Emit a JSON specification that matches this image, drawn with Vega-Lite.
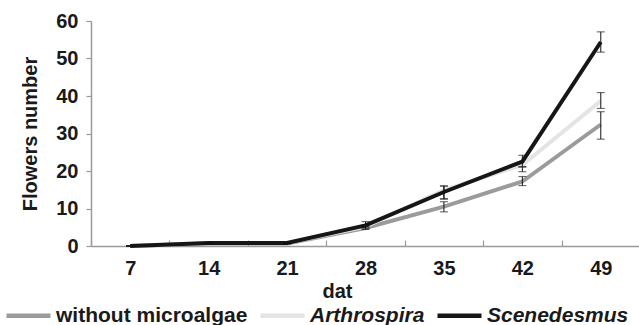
{
  "$schema": "https://vega.github.io/schema/vega-lite/v6.json",
  "width": 549,
  "height": 225,
  "autosize": "none",
  "padding": {"left": 91, "top": 21, "right": 0, "bottom": 79},
  "background": "white",
  "config": {
    "view": {"stroke": null},
    "font": "Liberation Sans",
    "axis": {"grid": false, "labelFont": "Liberation Sans", "titleFont": "Liberation Sans", "labelFontWeight": "bold", "titleFontWeight": "bold", "labelFontSize": 20, "titleFontSize": 20, "labelColor": "#1a1a1a", "titleColor": "#1a1a1a", "domainColor": "#9a9a9a", "tickColor": "#9a9a9a", "domainWidth": 1.5, "tickWidth": 1.2, "labelOverlap": false, "labelFlush": false}
  },
  "data": {
    "values": [
      {"dat": "7", "series": "without microalgae", "value": 0, "lo": 0, "hi": 0},
      {"dat": "14", "series": "without microalgae", "value": 0.7, "lo": 0.6, "hi": 0.8},
      {"dat": "21", "series": "without microalgae", "value": 0.7, "lo": 0.6, "hi": 0.8},
      {"dat": "28", "series": "without microalgae", "value": 4.8, "lo": 4.4, "hi": 5.2},
      {"dat": "35", "series": "without microalgae", "value": 10.5, "lo": 9.1, "hi": 11.8},
      {"dat": "42", "series": "without microalgae", "value": 17.2, "lo": 16.1, "hi": 18.5},
      {"dat": "49", "series": "without microalgae", "value": 32.4, "lo": 28.5, "hi": 35.8},
      {"dat": "7", "series": "Arthrospira", "value": 0, "lo": 0, "hi": 0},
      {"dat": "14", "series": "Arthrospira", "value": 0.8, "lo": 0.7, "hi": 0.9},
      {"dat": "21", "series": "Arthrospira", "value": 0.8, "lo": 0.7, "hi": 0.9},
      {"dat": "28", "series": "Arthrospira", "value": 5.2, "lo": 4.8, "hi": 5.6},
      {"dat": "35", "series": "Arthrospira", "value": 14.9, "lo": 12.6, "hi": 16.0},
      {"dat": "42", "series": "Arthrospira", "value": 21.6, "lo": 19.8, "hi": 21.0},
      {"dat": "49", "series": "Arthrospira", "value": 38.7, "lo": 36.7, "hi": 40.9},
      {"dat": "7", "series": "Scenedesmus", "value": 0, "lo": 0, "hi": 0},
      {"dat": "14", "series": "Scenedesmus", "value": 0.8, "lo": 0.6, "hi": 1.0},
      {"dat": "21", "series": "Scenedesmus", "value": 0.8, "lo": 0.6, "hi": 1.0},
      {"dat": "28", "series": "Scenedesmus", "value": 5.5, "lo": 4.8, "hi": 6.5},
      {"dat": "35", "series": "Scenedesmus", "value": 14.4, "lo": 12.5, "hi": 16.0},
      {"dat": "42", "series": "Scenedesmus", "value": 22.5, "lo": 21.2, "hi": 24.2},
      {"dat": "49", "series": "Scenedesmus", "value": 54.4, "lo": 51.7, "hi": 57.1}
    ]
  },
  "encoding": {
    "x": {
      "field": "dat",
      "type": "ordinal",
      "sort": ["7", "14", "21", "28", "35", "42", "49"],
      "scale": {"type": "band", "paddingInner": 0, "paddingOuter": 0},
      "axis": {"title": "dat", "labelAngle": 0, "tickBand": "extent", "tickSize": -6, "labelPadding": 18, "titleX": 246, "titleY": 35, "titleBaseline": "top", "titleAlign": "center"}
    }
  },
  "layer": [
    {
      "mark": {"type": "line", "strokeWidth": 4, "strokeJoin": "miter"},
      "encoding": {
        "y": {"field": "value", "type": "quantitative", "scale": {"domain": [0, 60], "nice": false}, "axis": {"title": "Flowers number", "values": [0, 10, 20, 30, 40, 50, 60], "tickCount": 7, "labelOverlap": false, "tickSize": 5, "labelPadding": 8, "titlePadding": 15}},
        "color": {
          "field": "series",
          "type": "nominal",
          "sort": ["without microalgae", "Arthrospira", "Scenedesmus"],
          "scale": {"domain": ["without microalgae", "Arthrospira", "Scenedesmus"], "range": ["#9b9b9b", "#e4e4e4", "#161616"]},
          "legend": {
            "title": null,
            "orient": "none",
            "direction": "horizontal",
            "legendX": -87,
            "legendY": 270,
            "symbolType": "stroke",
            "symbolSize": 1936,
            "symbolStrokeWidth": 4.5,
            "labelFont": "Liberation Sans",
            "labelFontSize": 21,
            "labelFontWeight": "bold",
            "labelColor": "#1a1a1a",
            "labelOffset": 3,
            "labelLimit": 400,
            "columnPadding": 3,
            "encode": {"labels": {"update": {"fontStyle": {"signal": "datum.label == 'without microalgae' ? 'normal' : 'italic'"}}}}
          }
        },
        "order": {"field": "series"}
      }
    },
    {
      "mark": {"type": "rule", "color": "#111111", "strokeWidth": 1},
      "encoding": {
        "y": {"field": "lo", "type": "quantitative", "axis": {"title": "Flowers number", "values": [0, 10, 20, 30, 40, 50, 60], "tickCount": 7, "labelOverlap": false, "tickSize": 5, "labelPadding": 8, "titlePadding": 15}},
        "y2": {"field": "hi"}
      }
    },
    {
      "mark": {"type": "tick", "color": "#111111", "size": 8, "thickness": 1},
      "encoding": {"y": {"field": "lo", "type": "quantitative", "axis": {"title": "Flowers number", "values": [0, 10, 20, 30, 40, 50, 60], "tickCount": 7, "labelOverlap": false, "tickSize": 5, "labelPadding": 8, "titlePadding": 15}}}
    },
    {
      "mark": {"type": "tick", "color": "#111111", "size": 8, "thickness": 1},
      "encoding": {"y": {"field": "hi", "type": "quantitative", "axis": {"title": "Flowers number", "values": [0, 10, 20, 30, 40, 50, 60], "tickCount": 7, "labelOverlap": false, "tickSize": 5, "labelPadding": 8, "titlePadding": 15}}}
    }
  ]
}
